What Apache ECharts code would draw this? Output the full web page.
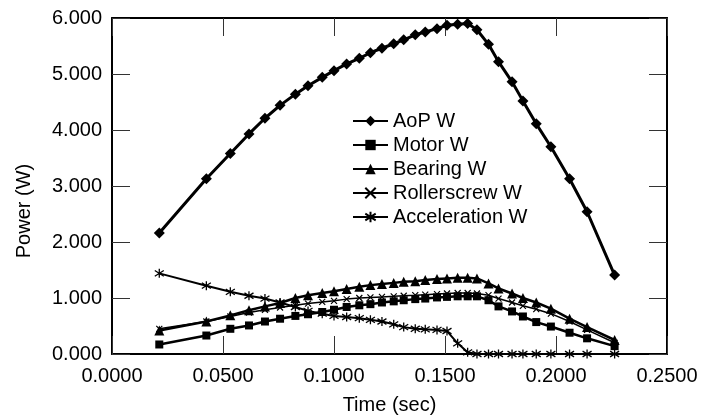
<!DOCTYPE html>
<html>
<head>
<meta charset="utf-8">
<script src="https://cdn.jsdelivr.net/npm/echarts@6/dist/echarts.min.js"></script>
<style>
html,body{margin:0;padding:0;background:#fff;}
#chart{width:703px;height:416px;}
</style>
</head>
<body>
<div id="chart"></div>
<script>
// Time (sec) of each sample
var timeSec = [0.0213,0.0425,0.0533,0.0617,0.0689,0.0757,0.0826,0.0883,0.0947,0.1000,0.1057,0.1114,0.1164,0.1216,0.1269,0.1314,0.1366,0.1411,0.1464,0.1509,0.1557,0.1602,0.1644,0.1696,0.1741,0.1802,0.1851,0.1911,0.1977,0.2061,0.2140,0.2264];
var aopW = [2.16,3.13,3.58,3.93,4.21,4.44,4.64,4.79,4.94,5.06,5.18,5.28,5.38,5.46,5.54,5.61,5.70,5.75,5.81,5.87,5.89,5.90,5.79,5.53,5.22,4.86,4.52,4.11,3.70,3.13,2.54,1.41];
var motorW = [0.17,0.33,0.45,0.51,0.58,0.63,0.68,0.71,0.75,0.79,0.84,0.87,0.89,0.92,0.94,0.96,0.98,0.99,1.01,1.02,1.03,1.03,1.03,0.96,0.85,0.76,0.67,0.57,0.49,0.38,0.28,0.14];
var bearingW = [0.42,0.58,0.69,0.78,0.85,0.91,1.00,1.05,1.09,1.12,1.16,1.20,1.23,1.25,1.27,1.29,1.30,1.32,1.34,1.35,1.36,1.36,1.35,1.26,1.17,1.08,1.00,0.92,0.81,0.63,0.48,0.25];
var rollerscrewW = [0.45,0.58,0.67,0.74,0.79,0.83,0.87,0.90,0.93,0.95,0.98,1.00,1.01,1.02,1.03,1.04,1.05,1.06,1.07,1.08,1.09,1.09,1.08,1.05,0.99,0.92,0.86,0.80,0.72,0.58,0.43,0.20];
var accelerationW = [1.44,1.22,1.11,1.04,0.99,0.92,0.84,0.77,0.72,0.68,0.66,0.64,0.61,0.58,0.53,0.48,0.45,0.44,0.43,0.41,0.19,0.03,0,0,0,0,0,0,0,0,0,0];
var seriesNames = ['AoP W','Motor W','Bearing W','Rollerscrew W','Acceleration W'];
var xTicks = {min:0, max:0.25, step:0.05};
var yTicks = {min:0, max:6, step:1};

function pairs(ys){ return timeSec.map(function(x,i){ return [x, ys[i]]; }); }

var FONT = 'Liberation Sans, Arial, Helvetica, sans-serif';
var symX = 'path://M0,0L10,10M10,0L0,10';
var symStar = 'path://M0,1.8L10,8.2M10,1.8L0,8.2M5,0L5,10';

function axisCommon(){
  return {
    axisLine:{show:true, onZero:false, lineStyle:{color:'#000', width:2}},
    axisTick:{show:true, inside:true, length:18, lineStyle:{color:'#333', width:1}},
    splitLine:{show:false}
  };
}

var chart = echarts.init(document.getElementById('chart'), null, {renderer:'canvas'});
var xb = Object.assign(axisCommon(), {
  type:'value', position:'bottom', min:xTicks.min, max:xTicks.max, interval:xTicks.step,
  name:'Time (sec)', nameLocation:'middle', nameGap:41,
  nameTextStyle:{color:'#000', fontSize:20, fontFamily:FONT},
  axisLabel:{color:'#000', fontSize:20, fontFamily:FONT, margin:12, formatter:function(v){return v.toFixed(4);}}
});
var xt = Object.assign(axisCommon(), {
  type:'value', position:'top', min:xTicks.min, max:xTicks.max, interval:xTicks.step,
  axisLabel:{show:false}
});
var yl = Object.assign(axisCommon(), {
  type:'value', position:'left', min:yTicks.min, max:yTicks.max, interval:yTicks.step,
  name:'Power (W)', nameLocation:'middle', nameGap:78, nameRotate:90,
  nameTextStyle:{color:'#000', fontSize:20, fontFamily:FONT, padding:[0,50,0,0]},
  axisLabel:{color:'#000', fontSize:20, fontFamily:FONT, margin:10, formatter:function(v){return v.toFixed(3);}}
});
var yr = Object.assign(axisCommon(), {
  type:'value', position:'right', min:yTicks.min, max:yTicks.max, interval:yTicks.step,
  axisLabel:{show:false}
});

function mk(name, data, symbol, size, lw, border){
  return {
    name:name, type:'line', xAxisIndex:0, yAxisIndex:0, data:pairs(data),
    symbol:symbol, symbolSize:size, showAllSymbol:true,
    lineStyle:{color:'#000', width:lw},
    itemStyle:{color:'#000', borderColor:'#000', borderWidth:border},
    emphasis:{disabled:true}, animation:false
  };
}

chart.setOption({
  animation:false,
  backgroundColor:'#fff',
  grid:{left:112, right:36, top:18, bottom:62, containLabel:false, outerBoundsMode:'none'},
  xAxis:[xb, xt],
  yAxis:[yl, yr],
  legend:{
    show:true, orient:'vertical', left:347, top:106,
    itemWidth:35, itemHeight:13, itemGap:4,
    data:seriesNames,
    textStyle:{color:'#000', fontSize:20, fontFamily:FONT, lineHeight:20},
    inactiveColor:'#000'
  },
  series:[
    mk(seriesNames[0], aopW, 'diamond', 11, 3, 0),
    mk(seriesNames[1], motorW, 'rect', 8, 2.5, 0),
    mk(seriesNames[2], bearingW, 'triangle', 10, 2.5, 0),
    mk(seriesNames[3], rollerscrewW, symX, 6, 1.5, 1.2),
    mk(seriesNames[4], accelerationW, symStar, 9, 2, 1.3)
  ]
});
</script>
</body>
</html>
